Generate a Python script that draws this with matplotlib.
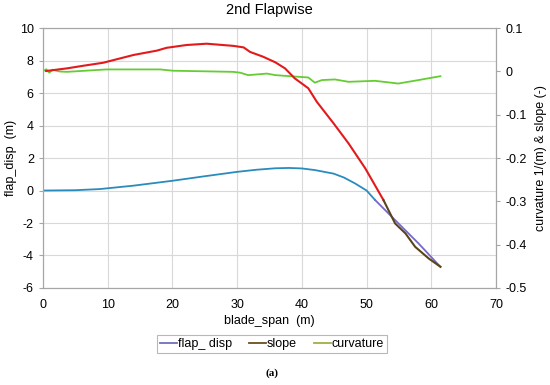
import numpy as np
import matplotlib.pyplot as plt
from matplotlib.lines import Line2D

plt.rcParams['font.family'] = ['Liberation Sans', 'DejaVu Sans']
plt.rcParams['axes.unicode_minus'] = False

# flap displacement (left axis, m)
span_disp = [0, 5, 8.8, 14, 17, 20, 25, 30, 33, 35.9, 38, 40, 42, 44.9,
             46.5, 48.2, 50, 51.3, 54.4, 58, 61.4]
flap_disp = [0, 0.02, 0.09, 0.3, 0.45, 0.6, 0.88, 1.15, 1.28, 1.37, 1.39,
             1.36, 1.26, 1.04, 0.8, 0.44, 0.0, -0.58, -1.82, -3.25, -4.7]
split_disp = 17  # index where the line changes colour

# slope (right axis, -)
span_slope = [0.5, 3.7, 6.2, 9.3, 14, 17.6, 19.1, 22.2, 25.3, 29.4, 31, 32,
              34, 35.9, 37.4, 38.9, 41, 42.3, 44.9, 47.2, 49.8, 52.6, 54.4,
              56, 57.5, 59.6, 61.4]
slope = [0.001, 0.007, 0.013, 0.020, 0.038, 0.048, 0.0545, 0.061, 0.064,
         0.059, 0.0555, 0.045, 0.034, 0.021, 0.007, -0.016, -0.039, -0.070,
         -0.120, -0.166, -0.224, -0.297, -0.351, -0.374, -0.405, -0.432,
         -0.451]
split_slope = 21

# curvature (right axis, 1/m)
span_curv = [0, 0.5, 1, 1.5, 2.5, 3.7, 9.8, 18.1, 20.1, 29.4, 30.5, 31.7,
             34.6, 35.9, 41, 42, 43.1, 45.1, 47.2, 51.3, 54.9, 58, 61.4]
curvature = [0, 0.005, -0.003, 0.004, 0, -0.001, 0.0046, 0.0046, 0.0016,
             -0.001, -0.003, -0.0086, -0.005, -0.0086, -0.014, -0.026, -0.020,
             -0.0185, -0.024, -0.0217, -0.028, -0.020, -0.011]

fig = plt.figure(figsize=(5.5, 3.85), dpi=100)
ax = fig.add_axes([0.078, 0.252, 0.824, 0.675])
ax2 = ax.twinx()

# left axis
ax.plot(span_disp[:split_disp + 1], flap_disp[:split_disp + 1], color='#2a8bbd', lw=1.3)
ax.plot(span_disp[split_disp:], flap_disp[split_disp:], color='#7468c8', lw=1.3)
ax.set_xlim(0, 70)
ax.set_ylim(-6, 10)
ax.set_xticks(range(0, 71, 10))
ax.set_yticks(range(-6, 11, 2))
ax.grid(True, color='#d9d9d9', lw=0.8)
ax.set_axisbelow(True)

# right axis
ax2.plot(span_curv, curvature, color='#66cc33', lw=1.3)
ax2.plot(span_slope[:split_slope + 1], slope[:split_slope + 1], color='#e31a1c', lw=1.5)
ax2.plot(span_slope[split_slope:], slope[split_slope:], color='#5a4418', lw=1.5)
ax2.set_ylim(-0.5, 0.1)
ax2.set_yticks(np.arange(-0.5, 0.11, 0.1))
ax2.set_yticklabels(['-0.5', '-0.4', '-0.3', '-0.2', '-0.1', '0', '0.1'])

for a in (ax, ax2):
    for s in a.spines.values():
        s.set_color('#a6a6a6')
    a.tick_params(colors='#a6a6a6', labelcolor='black', labelsize=9, length=3)
ax.tick_params(axis='x', length=0, pad=8)

ax.set_xlabel('blade_span  (m)', fontsize=9, labelpad=3)
ax.set_ylabel('flap_disp  (m)', fontsize=9, labelpad=2)
ax2.set_ylabel('curvature 1/(m) & slope (-)', fontsize=9, labelpad=6)
ax.set_title('2nd Flapwise', fontsize=10.5, pad=10)

handles = [Line2D([], [], color='#7070c0', lw=1.3),
           Line2D([], [], color='#6b4f1f', lw=1.3),
           Line2D([], [], color='#a0b040', lw=1.3)]
leg = fig.legend(handles, ['flap_ disp', 'slope', 'curvature'], loc='center',
                 bbox_to_anchor=(0.495, 0.106), ncol=3, fontsize=9,
                 frameon=True, fancybox=False, handlelength=1.3,
                 handletextpad=0.1, columnspacing=1.4, borderpad=0.25)
leg.get_frame().set_edgecolor('#a6a6a6')
leg.get_frame().set_linewidth(0.8)

fig.text(0.495, 0.031, '(a)', ha='center', va='center', fontsize=8,
         fontweight='bold', family=['Liberation Serif', 'DejaVu Serif'])

fig.savefig('out.png', dpi=100)
